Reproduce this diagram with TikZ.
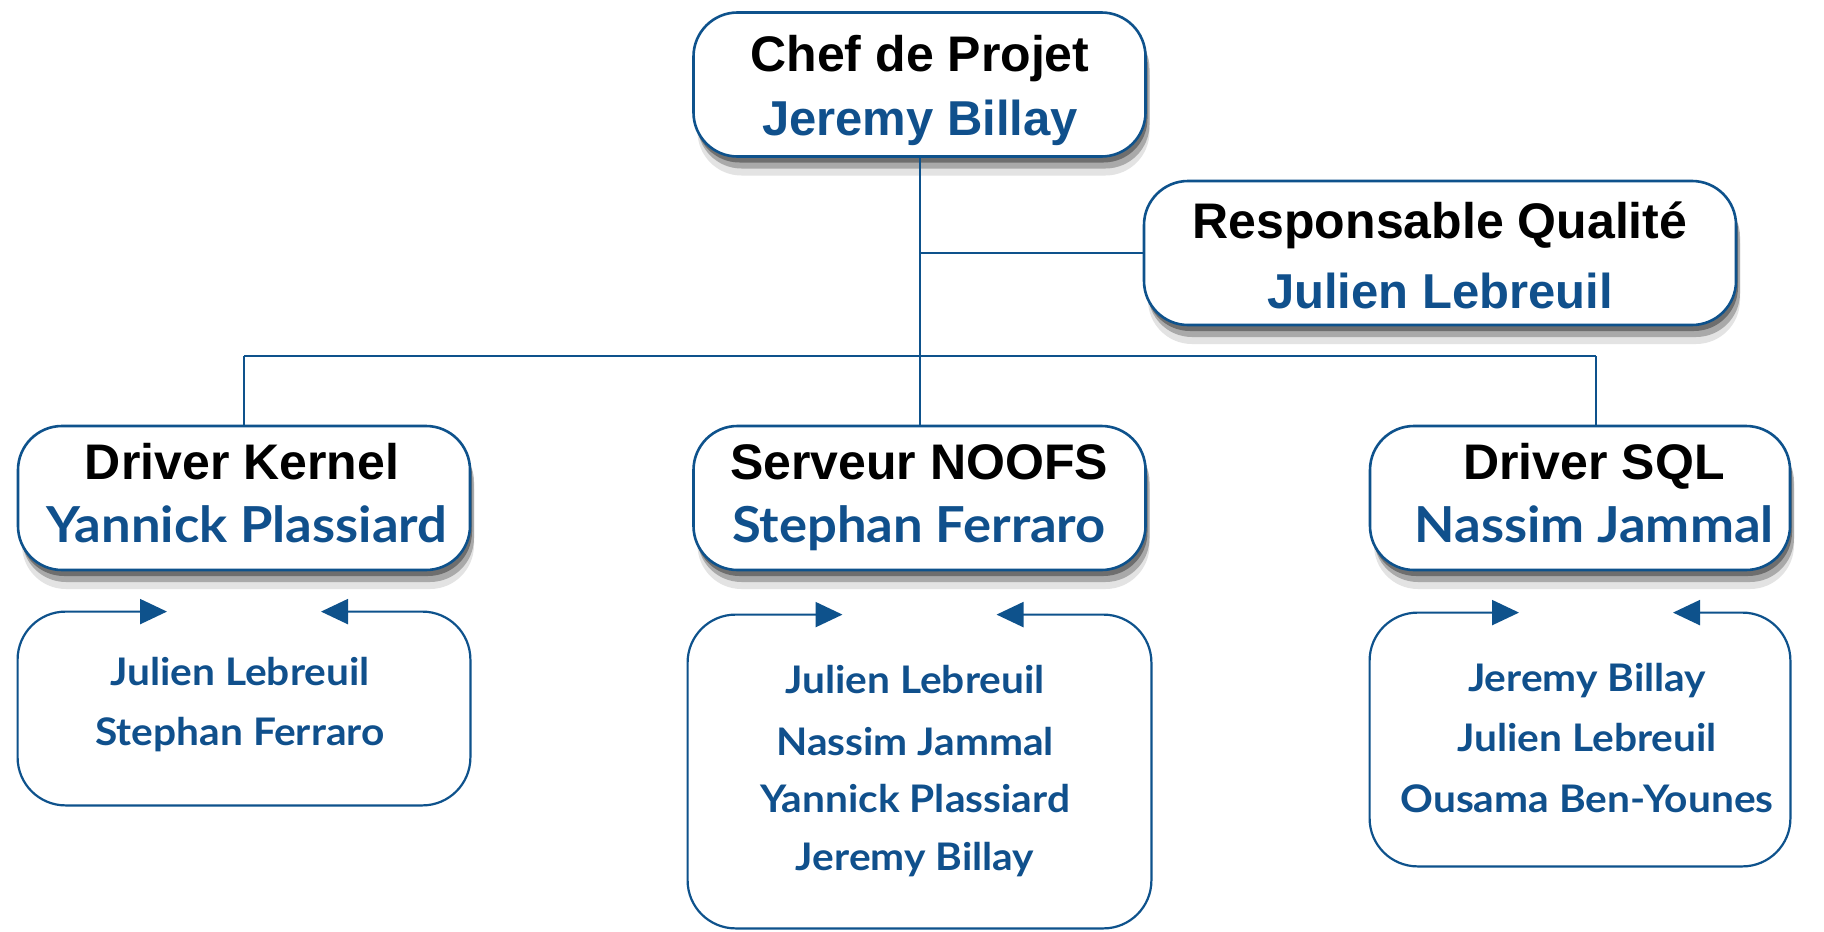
\documentclass[tikz,border=0pt]{standalone}
\usepackage{fontspec}
\setmainfont{Liberation Sans}
\newfontfamily\namefont[FakeStretch=1.06]{Lato}
\newfontfamily\memfont[FakeStretch=1.07]{Lato}
\usetikzlibrary{arrows.meta,shadows,calc}
\definecolor{boxblue}{RGB}{14,82,140}
\definecolor{txtblue}{RGB}{16,80,140}
\begin{document}
\begin{tikzpicture}[x=0.5pt,y=-0.5pt,
  upbox/.style={draw=boxblue,line width=1.3pt,rounded corners=22pt,fill=white,
    minimum width=#1,minimum height=72pt,inner sep=0pt,
    drop shadow={shadow xshift=1pt,shadow yshift=-3pt,opacity=.6,fill=black!80},
    drop shadow={shadow xshift=2pt,shadow yshift=-6pt,opacity=.4,fill=black!70},
    drop shadow={shadow xshift=2pt,shadow yshift=-9.5pt,opacity=.2,fill=black!55}},
  upbox/.default=226pt,
  lowframe/.style={draw=boxblue,line width=1.1pt,rounded corners=24pt,
    {Triangle[length=13.5pt,width=12.5pt]}-{Triangle[length=13.5pt,width=12.5pt]}},
  ghost/.style={inner sep=0pt,minimum width=#1},
  title/.style={font=\bfseries\fontsize{25pt}{30pt}\selectfont,text=black,anchor=base,inner sep=0pt},
  bigname/.style={font=\bfseries\fontsize{24.5pt}{30pt}\selectfont,text=txtblue,anchor=base,inner sep=0pt},
  drvname/.style={font=\namefont\bfseries\fontsize{24.8pt}{30pt}\selectfont,text=txtblue,anchor=base,inner sep=0pt},
  memname/.style={font=\memfont\bfseries\fontsize{19pt}{22pt}\selectfont,text=txtblue,anchor=base,inner sep=0pt},
  conn/.style={draw=boxblue,line width=1pt}]
\useasboundingbox (0,0) rectangle (1824,931);
\fill[white] (0,0) rectangle (1824,931);

% upper boxes
\node[upbox] (chef) at (919.5,84.5) {};
\node[upbox=296pt] (qual) at (1440,253) {};
\node[upbox] (kern) at (244,498) {};
\node[upbox] (serv) at (919.5,498) {};
\node[upbox=210pt] (sql) at (1580,498) {};

% connectors
\coordinate (busL) at (244,356);
\coordinate (busR) at (1596,356);
\coordinate (qj) at (919.5,253);
\draw[conn] (chef.south) -- (serv.north);
\draw[conn] (qj) -- (qual.west);
\draw[conn] (busL) -- (busR);
\draw[conn] (busL) -- (kern.north);
\draw[conn] (busR) -- (busR |- sql.north);

% lower boxes (frames)
\node[ghost=226pt,minimum height=96.5pt] (kmem) at (244,708.5) {};
\node[ghost=231.5pt,minimum height=156.5pt] (smem) at (919.5,771.5) {};
\node[ghost=210pt,minimum height=126.5pt] (qmem) at (1580,739.5) {};
\foreach \b/\c in {kmem/244,smem/919.5,qmem/1596}{
  \draw[lowframe] (\c-77,0 |- \b.north) -- (\b.north west) -- (\b.south west)
     -- (\b.south east) -- (\b.north east) -- (\c+77,0 |- \b.north);
}

% texts
\node[title] (chefT) at (920,72) {Chef de Projet};
\node[bigname] (chefN) at (920,135) {Jeremy Billay};
\node[title] (qualT) at (1440,238) {Responsable Qualité};
\node[bigname] (qualN) at (1440,308) {Julien Lebreuil};
\node[title] (kernT) at (242,479) {Driver Kernel};
\node[drvname] (kernN) at (247,542) {Yannick Plassiard};
\node[title] (servT) at (919,479) {Serveur NOOFS};
\node[drvname] (servN) at (919,542) {Stephan Ferraro};
\node[title] (sqlT) at (1594,479) {Driver SQL};
\node[drvname] (sqlN) at (1594,542) {Nassim Jammal};

\node[memname] (k1) at (240,685) {Julien Lebreuil};
\node[memname] (k2) at (240,745) {Stephan Ferraro};
\node[memname] (s1) at (915,693) {Julien Lebreuil};
\node[memname] (s2) at (915,755) {Nassim Jammal};
\node[memname] (s3) at (915,812) {Yannick Plassiard};
\node[memname] (s4) at (915,870) {Jeremy Billay};
\node[memname] (q1) at (1587,691) {Jeremy Billay};
\node[memname] (q2) at (1587,751) {Julien Lebreuil};
\node[memname] (q3) at (1587,812) {Ousama Ben-Younes};
\end{tikzpicture}
\end{document}
